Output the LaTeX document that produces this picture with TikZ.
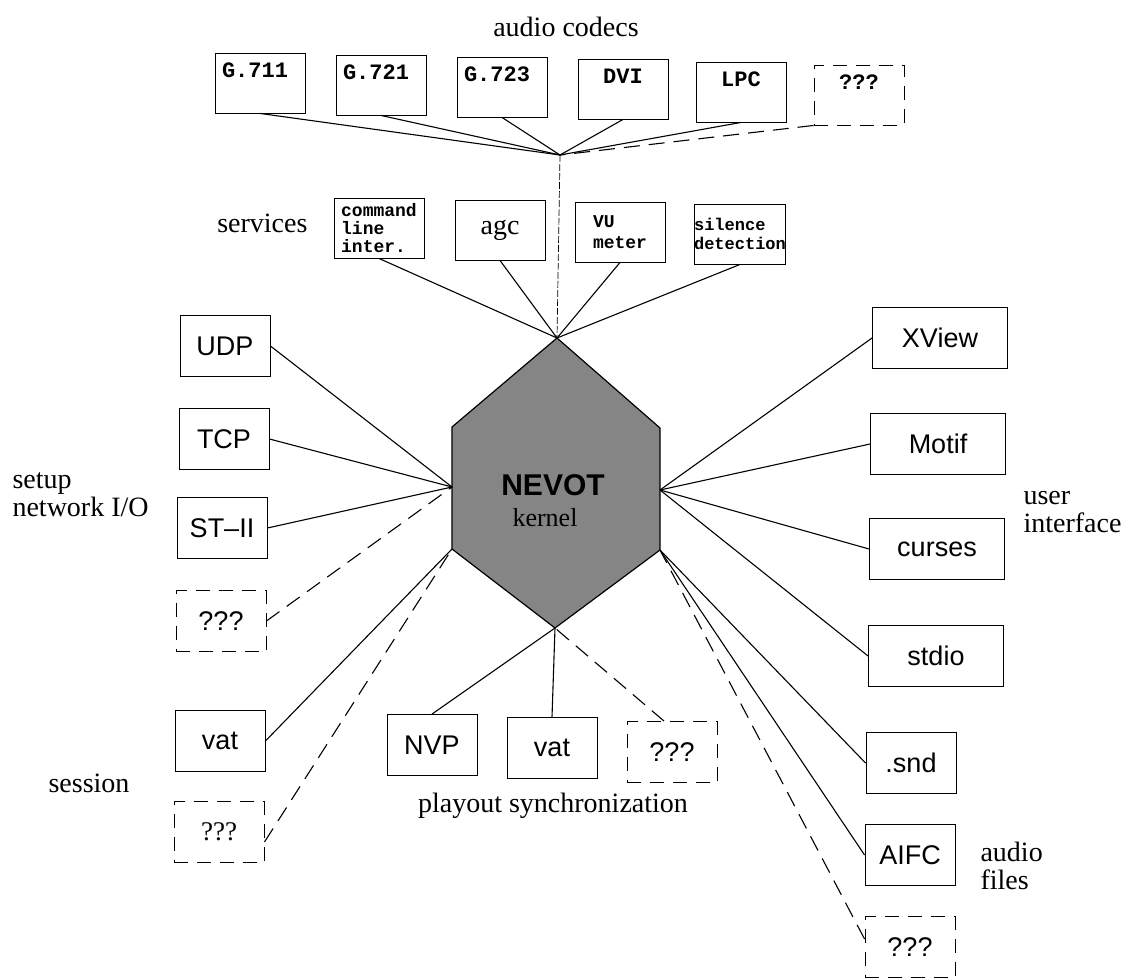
\documentclass[tikz,border=0pt]{standalone}
\usepackage{fontspec}
\setmainfont{Liberation Serif}
\setsansfont{Liberation Sans}
\setmonofont{Liberation Mono}

\begin{document}
\begin{tikzpicture}[x=1pt, y=-1pt, line width=1.1pt,
  box/.style={draw, line width=0.9pt, minimum width=90pt, minimum height=61pt, inner sep=0pt, font=\fontsize{27}{30}\sffamily},
  widebox/.style={box, minimum width=135pt},
  codec/.style={draw, line width=0.9pt, text width=76pt, text height=19pt, text depth=29pt, inner xsep=7pt, inner ysep=6pt, align=left, font=\fontsize{22}{22}\ttfamily\bfseries},
  service/.style={draw, line width=0.9pt, minimum width=90pt, minimum height=60pt, inner sep=0pt, align=left, font=\fontsize{18}{18}\ttfamily\bfseries},
  open/.style={dash pattern=on 14pt off 9pt},
  wire/.style={line width=1.1pt},
  maybe/.style={wire, dash pattern=on 16pt off 9pt},
  spine/.style={line width=0.7pt, dash pattern=on 7pt off 2pt},
  note/.style={font=\fontsize{28}{28}\selectfont, align=left, inner sep=0pt}]

\useasboundingbox (0,0) rectangle (1133,979);

% kernel hexagon
\coordinate (hextop) at (557,338);
\coordinate (hexur) at (660,428);
\coordinate (hexright) at (660,490);
\coordinate (hexlr) at (660,550);
\coordinate (hexbot) at (555,628);
\coordinate (hexll) at (452,549);
\coordinate (hexleft) at (452,487);
\coordinate (hexul) at (452,427);
\draw[line width=1.2pt, fill=black!48] (hextop) -- (hexur) -- (hexlr) -- (hexbot) -- (hexll) -- (hexul) -- cycle;
\node[font=\fontsize{30}{30}\sffamily\bfseries] (nevot) at (553,485) {NEVOT};
\node[font=\fontsize{26}{26}\rmfamily] (kernel) at (545,518) {kernel};

% audio codecs
\node[note] (codecstitle) at (566,27) {audio codecs};
\node[codec] (g711) at (260,83) {G.711};
\node[codec] (g721) at (381,85) {G.721};
\node[codec] (g723) at (502,87) {G.723};
\node[codec, align=center] (dvi) at (623,89) {DVI};
\node[codec, align=center] (lpc) at (741,92) {LPC};
\node[codec, align=center, open] (cq) at (859,95) {???};
\coordinate (codechub) at (560,155);

% services
\node[note, anchor=east] (servicestitle) at (308,223) {services};
\node[service] (cmd) at (379,228) {command\\line\\inter.};
\node[service, font=\fontsize{28}{30}\rmfamily] (agc) at (500,230) {agc};
\node[service, font=\fontsize{18}{21}\ttfamily\bfseries] (vu) at (620,232) {VU\\meter};
\node[service, font=\fontsize{17}{19}\ttfamily\bfseries] (silence) at (740,234) {silence\\detection};

% setup network I/O
\node[note, anchor=west] (setuptitle) at (12,495) {setup\\network I/O};
\node[box] (udp) at (225,346) {UDP};
\node[box] (tcp) at (224,439) {TCP};
\node[box] (st) at (222,528) {ST–II};
\node[box, open] (nq) at (221,621) {???};

% session
\node[note, anchor=west] (sessiontitle) at (48,783) {session};
\node[box] (svat) at (220,741) {vat};
\node[box, open, font=\fontsize{27}{30}\rmfamily] (sq) at (219,832) {???};

% playout synchronization
\node[note] (playouttitle) at (553,806) {playout synchronization};
\node[box] (nvp) at (432,745) {NVP};
\node[box] (pvat) at (552,748) {vat};
\node[box, open] (pq) at (672,752) {???};

% user interface
\node[note, anchor=west] (uititle) at (1023,512) {user\\interface};
\node[widebox] (xview) at (940,338) {XView};
\node[widebox] (motif) at (938,444) {Motif};
\node[widebox] (curses) at (937,549) {curses};
\node[widebox] (stdio) at (936,656) {stdio};

% audio files
\node[note, anchor=west] (filestitle) at (980,866) {audio\\files};
\node[box] (snd) at (911,763) {.snd};
\node[box] (aifc) at (910,855) {AIFC};
\node[box, open] (fq) at (910,947) {???};

% connectors
\draw[wire] (g711.south) -- (codechub);
\draw[wire] (g721.south) -- (codechub);
\draw[wire] (g723.south) -- (codechub);
\draw[wire] (dvi.south) -- (codechub);
\draw[wire] (lpc.south) -- (codechub);
\draw[maybe] (cq.south west) -- (codechub);
\draw[spine] (codechub) -- (hextop);

\draw[wire] (cmd.south) -- (hextop);
\draw[wire] (agc.south) -- (hextop);
\draw[wire] (vu.south) -- (hextop);
\draw[wire] (silence.south) -- (hextop);

\draw[wire] (udp.east) -- (hexleft);
\draw[wire] (tcp.east) -- (hexleft);
\draw[wire] (st.east) -- (hexleft);
\draw[maybe] (nq.east) -- (hexleft);
\draw[wire] (svat.east) -- (hexll);
\draw[maybe] ([yshift=-10pt]sq.east) -- (hexll);

\draw[wire] (nvp.north) -- (hexbot);
\draw[wire] (pvat.north) -- (hexbot);
\draw[maybe] ([xshift=-8pt]pq.north) -- (hexbot);

\draw[wire] (xview.west) -- (hexright);
\draw[wire] (motif.west) -- (hexright);
\draw[wire] (curses.west) -- (hexright);
\draw[wire] (stdio.west) -- (hexright);
\draw[wire] (snd.west) -- (hexlr);
\draw[wire] (aifc.west) -- (hexlr);
\draw[maybe] ([yshift=8pt]fq.west) -- (hexlr);

\end{tikzpicture}
\end{document}
